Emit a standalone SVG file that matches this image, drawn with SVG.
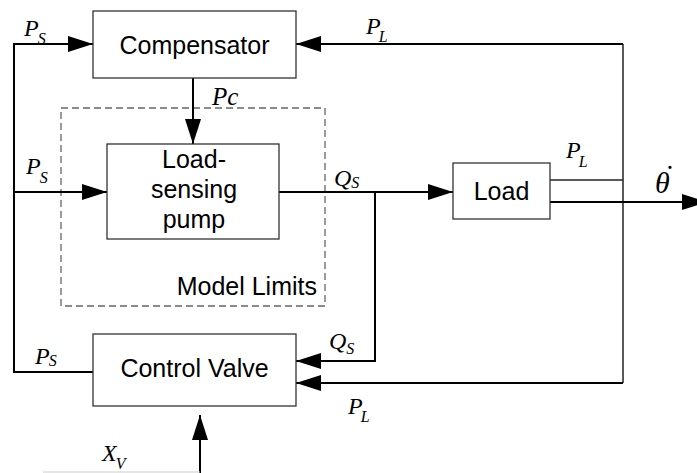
<svg xmlns="http://www.w3.org/2000/svg" width="697" height="473" viewBox="0 0 697 473">
<style>
.box{fill:#fff;stroke:#333;stroke-width:1.3}
.lbl{font-family:"Liberation Sans",Arial,sans-serif;font-size:25px;fill:#000;text-anchor:middle}
.m{font-family:"Liberation Serif","Times New Roman",serif;font-style:italic;font-size:24px;fill:#000}
.sub{font-size:16px}
.c{fill:none;stroke:#000;stroke-width:2}
.thin{fill:none;stroke:#222;stroke-width:1.5}
</style>
<defs>
<marker id="ah" markerUnits="userSpaceOnUse" markerWidth="25" markerHeight="16" viewBox="0 0 25 16" refX="25" refY="8" orient="auto">
<path d="M0,0 L25,8 L0,16 Z" fill="#000"/>
</marker>
</defs>
<g id="limits">
<rect x="61" y="108" width="264" height="198" fill="none" stroke="#666" stroke-width="1.3" stroke-dasharray="7,4"/>
<text class="lbl" x="317" y="295" style="text-anchor:end">Model Limits</text>
</g>
<g id="connectors">
<path class="c" d="M93,372 L14,372 L14,44 L93,44" marker-end="url(#ah)"/>
<path class="c" d="M14,192 L107,192" marker-end="url(#ah)"/>
<path class="c" d="M193,78 L193,144" marker-end="url(#ah)"/>
<path class="c" d="M279,192 L453,192" marker-end="url(#ah)"/>
<path class="c" d="M375,192 L375,361 L296,361" marker-end="url(#ah)"/>
<path class="thin" d="M550,180 L623,180"/>
<path class="thin" d="M623,44 L623,383"/>
<path class="c" d="M623,44 L296,44" marker-end="url(#ah)"/>
<path class="c" d="M623,383 L296,383" marker-end="url(#ah)"/>
<path class="c" d="M550,202 L707,202" marker-end="url(#ah)"/>
<path class="c" d="M200,473 L200,415" marker-end="url(#ah)"/>
<path d="M43,472 L200,472" stroke="#ccc" stroke-width="1" fill="none"/>
</g>
<g id="compensator">
<rect class="box" x="93" y="11" width="203" height="67"/>
<text class="lbl" x="194.5" y="54">Compensator</text>
</g>
<g id="pump">
<rect class="box" x="107" y="144" width="172" height="95"/>
<text class="lbl" x="194" y="168">Load-</text>
<text class="lbl" x="194" y="198">sensing</text>
<text class="lbl" x="194" y="228">pump</text>
</g>
<g id="load">
<rect class="box" x="453" y="163" width="97" height="56"/>
<text class="lbl" x="501.5" y="200">Load</text>
</g>
<g id="valve">
<rect class="box" x="93" y="334" width="203" height="72"/>
<text class="lbl" x="194.5" y="377">Control Valve</text>
</g>
<g id="labels">
<text class="m" x="24" y="36">P<tspan class="sub" dx="-1" dy="8">S</tspan></text>
<text class="m" x="26" y="174">P<tspan class="sub" dx="-1" dy="9">S</tspan></text>
<text class="m" x="35" y="364">P<tspan class="sub" dx="-1" dy="2">S</tspan></text>
<text class="m" x="212" y="105" style="font-size:25px">Pc</text>
<text class="m" x="366" y="34">P<tspan class="sub" dx="-2" dy="8">L</tspan></text>
<text class="m" x="566" y="158">P<tspan class="sub" dx="-2" dy="9">L</tspan></text>
<text class="m" x="348" y="414">P<tspan class="sub" dx="-2" dy="8">L</tspan></text>
<text class="m" x="334" y="186">Q<tspan class="sub" dx="0" dy="2">S</tspan></text>
<text class="m" x="329" y="349">Q<tspan class="sub" dx="0" dy="5">S</tspan></text>
<text class="m" x="102" y="461">X<tspan class="sub" dx="-1" dy="8">V</tspan></text>
<text class="m" x="655" y="193" style="font-size:30px">θ</text>
<text class="m" x="663" y="186" style="font-size:30px">˙</text>
</g>
</svg>
